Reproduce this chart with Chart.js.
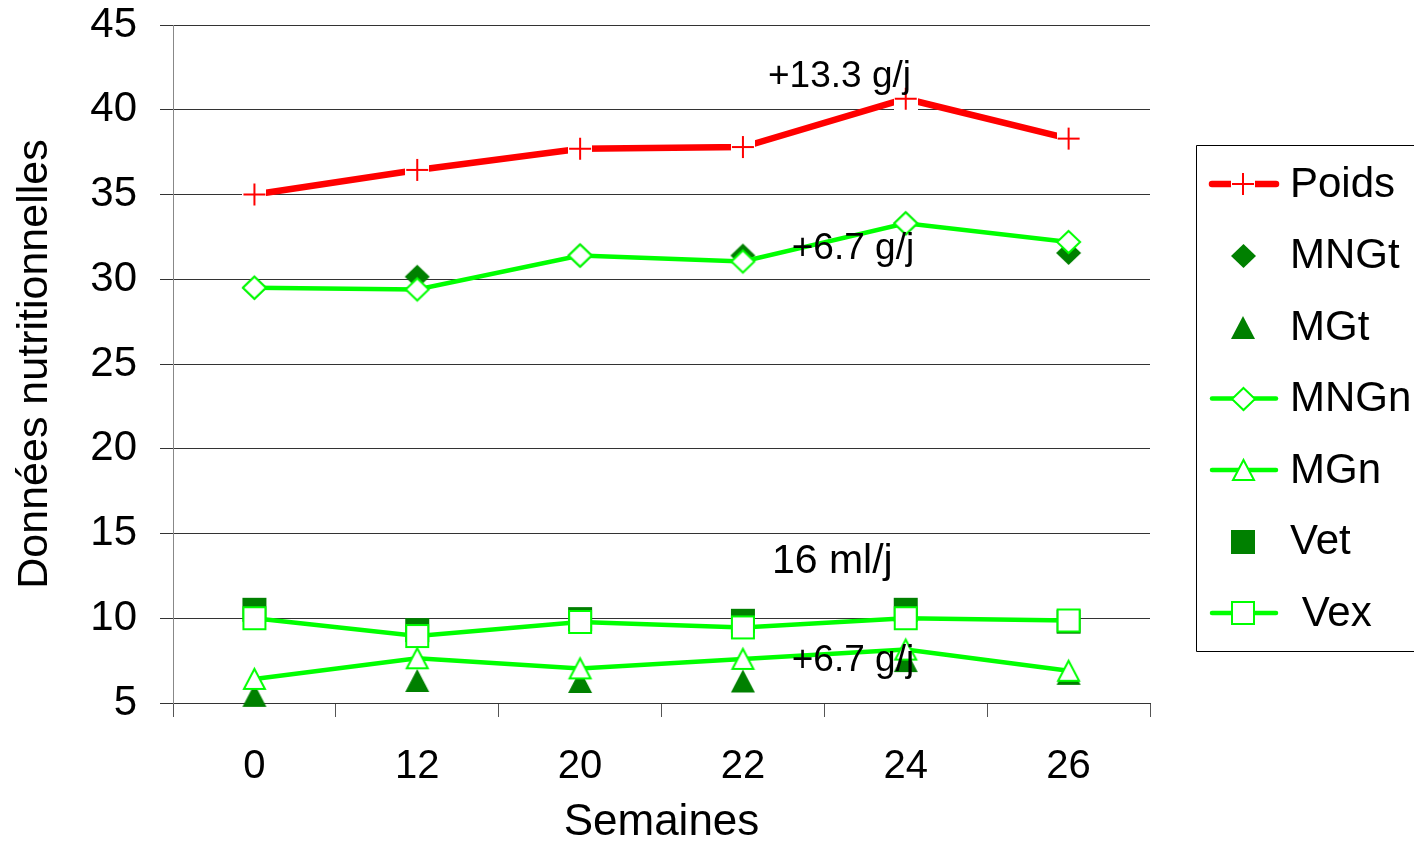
<!DOCTYPE html>
<html>
<head>
<meta charset="utf-8">
<script src="https://cdn.jsdelivr.net/npm/chart.js@4.4.1/dist/chart.umd.min.js"></script>
<style>
  html, body { margin: 0; padding: 0; background: #fff; }
  #wrap { width: 1414px; height: 856px; }
</style>
</head>
<body>
<div id="wrap"><canvas id="chart" width="1414" height="856"></canvas></div>
<script>
// Semaines de suivi
const weeks = ['0', '12', '20', '22', '24', '26'];

// Séries (valeurs relevées)
const poids = [35.0, 36.45, 37.7, 37.8, 40.65, 38.3];
const mngt  = [29.5, 30.15, 31.4, 31.4, 33.3, 31.55];
const mgt   = [5.45, 6.33, 6.27, 6.3, 7.5, 6.75];
const mngn  = [29.5, 29.4, 31.4, 31.05, 33.3, 32.2];
const mgn   = [6.42, 7.64, 7.04, 7.6, 8.15, 6.9];
const vet   = [10.5, 9.3, 9.95, 9.85, 10.5, 9.8];
const vex   = [10.0, 8.95, 9.78, 9.46, 10.0, 9.87];

// Graduations de l'axe vertical
const yTicks = [5, 10, 15, 20, 25, 30, 35, 40, 45];

// Commentaires de gain
const noteTexts = ['+13.3 g/j', '+6.7 g/j', '16 ml/j', '+6.7 g/j'];
// position of each note: [category position, value at baseline]
const notePos = [[3.154, 41.34], [3.30, 31.19], [3.178, 12.67], [3.30, 6.89]];
const noteSizes = [37, 37, 41, 37];

const FONT = "'Liberation Sans', Arial, Helvetica, sans-serif";
const RED = '#FF0000';
const LIGHT = '#00FF00';
const DARK = '#008000';

// Marker images (centred on the data point)
function marker(shape, w, h, fill, stroke, lw) {
  const pad = 3;
  const c = document.createElement('canvas');
  c.width = w + 2 * pad; c.height = h + 2 * pad;
  const g = c.getContext('2d');
  const o = pad, s = stroke ? lw / 2 : 0;
  g.beginPath();
  if (shape === 'diamond') {
    g.moveTo(o + w / 2, o + s); g.lineTo(o + w - s, o + h / 2);
    g.lineTo(o + w / 2, o + h - s); g.lineTo(o + s, o + h / 2); g.closePath();
  } else if (shape === 'triangle') {
    g.moveTo(o + w / 2, o + s); g.lineTo(o + w - s, o + h - s);
    g.lineTo(o + s, o + h - s); g.closePath();
  } else if (shape === 'square') {
    g.rect(o + s, o + s, w - 2 * s, h - 2 * s);
  }
  if (fill) { g.fillStyle = fill; g.fill(); }
  if (stroke) { g.lineJoin = 'miter'; g.strokeStyle = stroke; g.lineWidth = lw; g.stroke(); }
  return c;
}
function crossMarker(size, color, lw) {
  const c = document.createElement('canvas');
  c.width = size; c.height = size;
  const g = c.getContext('2d');
  g.fillStyle = '#fff';
  g.fillRect(0, 0, size, size);
  g.strokeStyle = color; g.lineWidth = lw;
  g.beginPath();
  g.moveTo(1, size / 2); g.lineTo(size - 1, size / 2);
  g.moveTo(size / 2, 1); g.lineTo(size / 2, size - 1);
  g.stroke();
  return c;
}

const mk = {
  cross: crossMarker(24, RED, 2),
  diamondFill: marker('diamond', 25, 24, DARK, null, 0),
  triFill: marker('triangle', 24, 23, DARK, null, 0),
  diamondOpen: marker('diamond', 25, 24, '#fff', LIGHT, 2),
  triOpen: marker('triangle', 23, 22, '#fff', LIGHT, 2),
  squareFill: marker('square', 24, 24, DARK, null, 0),
  squareOpen: marker('square', 24, 24, '#fff', LIGHT, 2)
};

function lineSet(label, data, color, width, style, order) {
  return { label, data, borderColor: color, backgroundColor: color, borderWidth: width,
           pointStyle: style, pointRadius: 12, tension: 0, clip: false, order, showLine: true };
}
function pointSet(label, data, style, order) {
  return { label, data, borderColor: DARK, backgroundColor: DARK, borderWidth: 0,
           pointStyle: style, pointRadius: 12, showLine: false, clip: false, order };
}

const datasets = [
  lineSet('Poids', poids, RED, 6.5, mk.cross, 0),
  pointSet('MNGt', mngt, mk.diamondFill, 2),
  pointSet('MGt', mgt, mk.triFill, 2),
  lineSet('MNGn', mngn, LIGHT, 4.5, mk.diamondOpen, 1),
  lineSet('MGn', mgn, LIGHT, 4.5, mk.triOpen, 1),
  pointSet('Vet', vet, mk.squareFill, 2),
  lineSet(' Vex', vex, LIGHT, 4.5, mk.squareOpen, 1)
];

// white page behind the chart
const background = {
  id: 'background',
  beforeDraw(chart) {
    const { ctx, width, height } = chart;
    ctx.save(); ctx.fillStyle = '#fff'; ctx.fillRect(0, 0, width, height); ctx.restore();
  }
};

// free text notes placed through the scales
const notes = {
  id: 'notes',
  afterDatasetsDraw(chart) {
    const { ctx, scales: { x, y } } = chart;
    ctx.save();
    ctx.fillStyle = '#000';
    ctx.textAlign = 'left';
    ctx.textBaseline = 'alphabetic';
    noteTexts.forEach((t, i) => {
      const [cx, vy] = notePos[i];
      ctx.font = noteSizes[i] + 'px ' + FONT;
      ctx.fillText(t, x.getPixelForValue(cx), y.getPixelForValue(vy));
    });
    ctx.restore();
  }
};

// boxed legend on the right
const boxLegend = {
  id: 'boxLegend',
  afterDraw(chart) {
    const { ctx } = chart;
    const left = 1196.5, top = 145.5, bottom = 651.5;
    ctx.save();
    ctx.strokeStyle = '#000'; ctx.lineWidth = 1;
    ctx.beginPath();
    ctx.moveTo(1420, top); ctx.lineTo(left, top); ctx.lineTo(left, bottom); ctx.lineTo(1420, bottom);
    ctx.stroke();
    ctx.font = '42px ' + FONT;
    ctx.textAlign = 'left';
    ctx.textBaseline = 'middle';
    chart.data.datasets.forEach((ds, i) => {
      const yy = 184 + i * 71.5;
      if (ds.showLine) {
        ctx.strokeStyle = ds.borderColor;
        ctx.lineWidth = ds.borderWidth;
        ctx.lineCap = 'round';
        ctx.beginPath(); ctx.moveTo(1212, yy); ctx.lineTo(1276, yy); ctx.stroke();
      }
      const img = ds.pointStyle;
      ctx.drawImage(img, Math.round(1243 - img.width / 2), Math.round(yy - img.height / 2));
      ctx.fillStyle = '#000';
      ctx.fillText(ds.label, 1290, yy + 1);
    });
    ctx.restore();
  }
};

new Chart(document.getElementById('chart'), {
  type: 'line',
  data: { labels: weeks, datasets },
  plugins: [background, notes, boxLegend],
  options: {
    responsive: false,
    animation: false,
    events: [],
    layout: { padding: { top: 0, right: 264, left: 0, bottom: 0 } },
    plugins: { legend: { display: false }, tooltip: { enabled: false } },
    scales: {
      x: {
        type: 'category',
        offset: true,
        grid: { offset: true, drawOnChartArea: false, drawTicks: true, tickLength: 14, color: '#555', lineWidth: 1 },
        border: { display: true, color: '#333', width: 1 },
        ticks: { color: '#000', font: { family: FONT, size: 40 }, padding: 26, maxRotation: 0, autoSkip: false },
        title: { display: true, text: 'Semaines', color: '#000', font: { family: FONT, size: 44 }, padding: { top: 0, bottom: 7 } },
        afterFit(s) { s.height = 153; }
      },
      y: {
        min: 5, max: 45,
        afterBuildTicks(s) { s.ticks = yTicks.map(v => ({ value: v })); },
        grid: { color: '#333', lineWidth: 1, tickLength: 13, drawTicks: true },
        border: { display: true, color: '#888', width: 1 },
        ticks: { color: '#000', font: { family: FONT, size: 42 }, padding: 23 },
        title: { display: true, text: 'Données nutritionnelles', color: '#000', font: { family: FONT, size: 43 }, padding: { top: 9, bottom: 0 } },
        afterFit(s) { s.width = 173; s.paddingTop = 25; s.paddingBottom = 0; }
      }
    }
  }
});
</script>
</body>
</html>
